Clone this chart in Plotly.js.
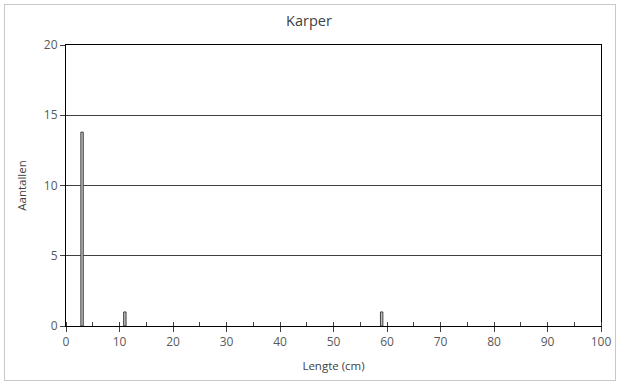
<!DOCTYPE html>
<html>
<head>
<meta charset="utf-8">
<script src="https://cdn.plot.ly/plotly-3.0.1.min.js"></script>
<style>
  html, body { margin: 0; padding: 0; background: #fff; }
  #chart { width: 618px; height: 383px; }
  #frame { position: absolute; left: 4px; top: 4px; width: 612px; height: 377px;
           border: 1px solid #c8c8c8; box-sizing: border-box; pointer-events: none; }
</style>
</head>
<body>
<div id="chart"></div>
<div id="frame"></div>
<script>
// Length classes (cm) and counts for carp
const lengths = [3, 11, 59];
const counts = [13.8, 1, 1];
const yTicks = [0, 5, 10, 15, 20];
const xTicks = [0, 10, 20, 30, 40, 50, 60, 70, 80, 90, 100];

const fontFam = '"Open Sans", "Liberation Sans", sans-serif';

const trace = {
  type: 'bar',
  x: lengths,
  y: counts,
  width: 0.45,
  marker: { color: '#bfbfbf', line: { color: '#404040', width: 1 } },
  hoverinfo: 'x+y'
};

const layout = {
  width: 618,
  height: 383,
  margin: { l: 66, r: 17, t: 45, b: 57 },
  paper_bgcolor: '#ffffff',
  plot_bgcolor: '#ffffff',
  showlegend: false,
  title: {
    text: 'Karper',
    font: { family: fontFam, size: 14.5, color: '#404040' },
    x: 0.5, xanchor: 'center', y: 0.945, yanchor: 'middle'
  },
  xaxis: {
    range: [0, 100],
    tickvals: xTicks,
    ticks: 'outside',
    ticklen: 5,
    tickcolor: '#404040',
    showline: true,
    linecolor: '#000000',
    linewidth: 1,
    mirror: true,
    showgrid: false,
    zeroline: false,
    minor: { dtick: 5, tick0: 0, ticks: 'inside', ticklen: 4, tickcolor: '#404040', showgrid: false },
    tickfont: { family: fontFam, size: 12, color: '#595959' },
    title: { text: 'Lengte (cm)', font: { family: fontFam, size: 11.5, color: '#404040' }, standoff: 12 }
  },
  yaxis: {
    range: [0, 20],
    tickvals: yTicks,
    ticks: 'outside',
    ticklen: 5,
    tickcolor: '#404040',
    showline: true,
    linecolor: '#000000',
    linewidth: 1,
    mirror: true,
    showgrid: true,
    gridcolor: '#404040',
    gridwidth: 1,
    zeroline: false,
    tickfont: { family: fontFam, size: 12, color: '#595959' },
    title: { text: 'Aantallen', font: { family: fontFam, size: 11.5, color: '#404040' }, standoff: 14 }
  }
};

Plotly.newPlot('chart', [trace], layout, { staticPlot: true });
</script>
</body>
</html>
